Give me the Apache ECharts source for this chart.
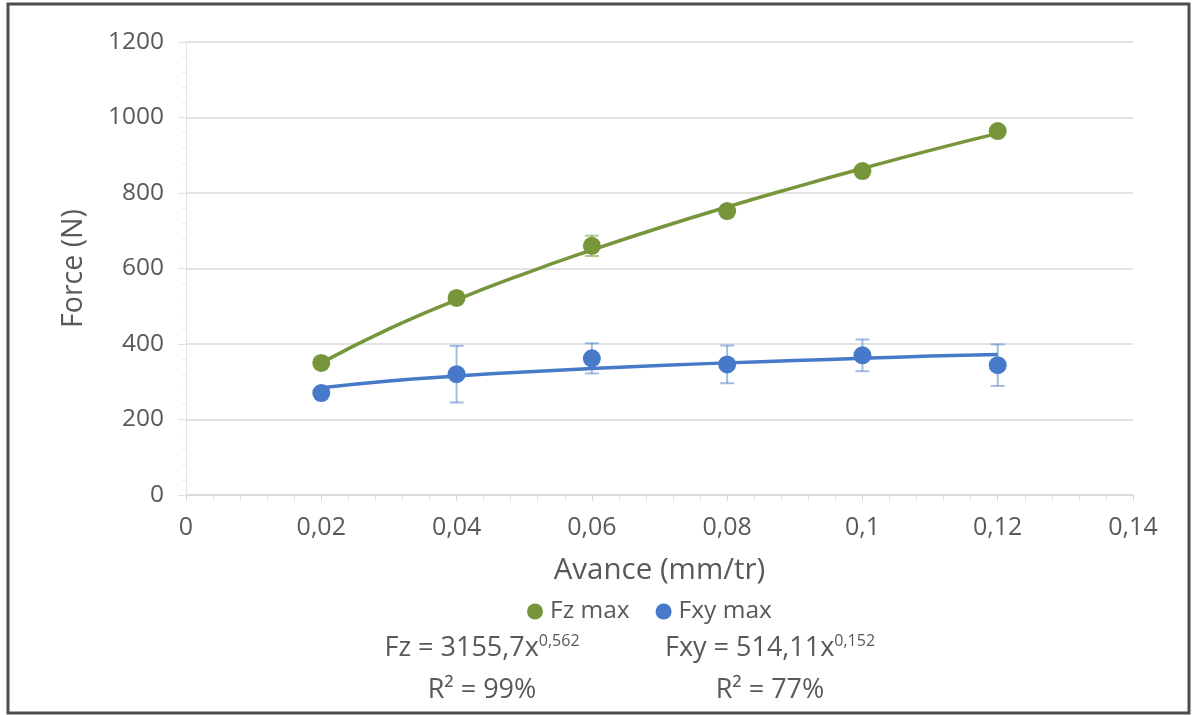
<!DOCTYPE html>
<html>
<head>
<meta charset="utf-8">
<script src="https://cdn.jsdelivr.net/npm/echarts@6/dist/echarts.min.js"></script>
<style>
html,body{margin:0;padding:0;background:#fff;}
#chart{width:1194px;height:715px;}
</style>
</head>
<body>
<div id="chart"></div>
<script>
// ---- data ----
var avance = [0.02, 0.04, 0.06, 0.08, 0.1, 0.12];
var fzMax = [350, 522, 660, 752, 858, 964];
var fzErr = [6, 8, 27, 8, 8, 6];
var fxyMax = [270, 320, 362, 346, 370, 344];
var fxyErr = [6, 75, 40, 50, 42, 55];
// trendline readings (power trendlines shown on the chart)
var trendX = [0.02, 0.03, 0.04, 0.05, 0.06, 0.07, 0.08, 0.09, 0.1, 0.11, 0.12];
var fzTrend = [350, 440, 517, 586, 649, 708, 763, 815, 865, 913, 958];
var fxyTrend = [284, 302, 315, 326, 335, 343, 350, 356, 362, 368, 372];
var xTicks = {min: 0, max: 0.14, interval: 0.02};
var yTicks = {min: 0, max: 1200, interval: 200};
var seriesNames = ['Fz max', 'Fxy max'];
var eqFz = ['Fz = 3155,7x', '0,562', 'R² = 99%'];
var eqFxy = ['Fxy = 514,11x', '0,152', 'R² = 77%'];

var green = '#77953b', blue = '#4679c8';
var FONT = 'Open Sans';
var TXT = '#595959';

function pairs(xs, ys) { return xs.map(function (x, i) { return [x, ys[i]]; }); }
function errData(xs, ys, es) { return xs.map(function (x, i) { return [x, ys[i] - es[i], ys[i] + es[i]]; }); }

function errRender(color) {
  return function (params, api) {
    var x = api.value(0);
    var lo = api.coord([x, api.value(1)]);
    var hi = api.coord([x, api.value(2)]);
    var cap = 7;
    var st = {stroke: color, lineWidth: 2};
    return {
      type: 'group',
      children: [
        {type: 'line', shape: {x1: lo[0], y1: lo[1], x2: hi[0], y2: hi[1]}, style: st},
        {type: 'line', shape: {x1: lo[0] - cap, y1: lo[1], x2: lo[0] + cap, y2: lo[1]}, style: st},
        {type: 'line', shape: {x1: hi[0] - cap, y1: hi[1], x2: hi[0] + cap, y2: hi[1]}, style: st}
      ]
    };
  };
}

var eqRich = {
  a: {fontFamily: FONT, fontSize: 27, fill: TXT, color: TXT},
  s: {fontFamily: FONT, fontSize: 16, fill: TXT, color: TXT, verticalAlign: 'top', padding: [0, 0, 14, 0]}
};

var chart = echarts.init(document.getElementById('chart'));
chart.setOption({
  backgroundColor: '#fff',
  animation: false,
  textStyle: {fontFamily: FONT},
  grid: {left: 186, right: 61, top: 42, bottom: 220},
  legend: {
    data: seriesNames,
    top: 594,
    left: 522,
    itemWidth: 16, itemHeight: 16, itemGap: 26,
    icon: 'circle',
    textStyle: {fontFamily: FONT, fontSize: 24.5, color: TXT, padding: [0, 0, 0, 2]}
  },
  xAxis: {
    type: 'value',
    min: xTicks.min, max: xTicks.max, interval: xTicks.interval,
    name: 'Avance (mm/tr)', nameLocation: 'middle', nameGap: 61,
    nameTextStyle: {fontFamily: FONT, fontSize: 29.5, color: TXT},
    axisLine: {show: true, lineStyle: {color: '#d9d9d9', width: 1.5}},
    axisTick: {show: true, length: 6, lineStyle: {color: '#d9d9d9'}},
    minorTick: {show: true, splitNumber: 5, length: 6, lineStyle: {color: '#e3e3e3'}},
    splitLine: {show: false},
    axisLabel: {
      margin: 20, fontSize: 25, color: TXT, fontFamily: FONT,
      formatter: function (v) { return String(+v.toFixed(2)).replace('.', ','); }
    }
  },
  yAxis: {
    type: 'value',
    min: yTicks.min, max: yTicks.max, interval: yTicks.interval,
    name: 'Force (N)', nameLocation: 'middle', nameGap: 98,
    nameTextStyle: {fontFamily: FONT, fontSize: 28.5, color: TXT},
    axisLine: {show: true, lineStyle: {color: '#e3e3e3', width: 1}},
    axisTick: {show: true, length: 8, lineStyle: {color: '#e3e3e3'}},
    minorTick: {show: true, splitNumber: 5, length: 4, lineStyle: {color: '#ececec'}},
    splitLine: {show: true, lineStyle: {color: '#d9d9d9', width: 1.5}},
    axisLabel: {
      margin: 22, fontSize: 24.5, color: TXT, fontFamily: FONT,
      formatter: function (v) { return String(v); }
    }
  },
  series: [
    {
      name: 'Fz err', type: 'custom', renderItem: errRender('rgba(119,149,59,0.55)'),
      data: errData(avance, fzMax, fzErr), z: 1, silent: true
    },
    {
      name: 'Fxy err', type: 'custom', renderItem: errRender('rgba(70,121,200,0.5)'),
      data: errData(avance, fxyMax, fxyErr), z: 1, silent: true
    },
    {
      name: seriesNames[0], type: 'scatter', symbol: 'circle', symbolSize: 18,
      itemStyle: {color: green, opacity: 1}, data: pairs(avance, fzMax), z: 3
    },
    {
      name: seriesNames[1], type: 'scatter', symbol: 'circle', symbolSize: 18,
      itemStyle: {color: blue, opacity: 1}, data: pairs(avance, fxyMax), z: 3
    },
    {
      name: 'Fz trend', type: 'line', smooth: true, showSymbol: false,
      lineStyle: {color: green, width: 3.5}, data: pairs(trendX, fzTrend), z: 4, silent: true
    },
    {
      name: 'Fxy trend', type: 'line', smooth: true, showSymbol: false,
      lineStyle: {color: blue, width: 3.5}, data: pairs(trendX, fxyTrend), z: 4, silent: true
    }
  ],
  graphic: [
    {type: 'rect', shape: {x: 8, y: 4, width: 1181, height: 709}, style: {fill: 'none', stroke: '#4d4d4d', lineWidth: 3}, silent: true},
    {type: 'text', x: 482, y: 648, style: {
      text: '{a|' + eqFz[0] + '}{s|' + eqFz[1] + '}', align: 'center', verticalAlign: 'middle', fill: TXT, rich: eqRich
    }},
    {type: 'text', x: 482, y: 690, style: {text: eqFz[2], align: 'center', verticalAlign: 'middle', fontFamily: FONT, fontSize: 27, fill: TXT}},
    {type: 'text', x: 770, y: 648, style: {
      text: '{a|' + eqFxy[0] + '}{s|' + eqFxy[1] + '}', align: 'center', verticalAlign: 'middle', fill: TXT, rich: eqRich
    }},
    {type: 'text', x: 770, y: 690, style: {text: eqFxy[2], align: 'center', verticalAlign: 'middle', fontFamily: FONT, fontSize: 27, fill: TXT}}
  ]
});
</script>
</body>
</html>
